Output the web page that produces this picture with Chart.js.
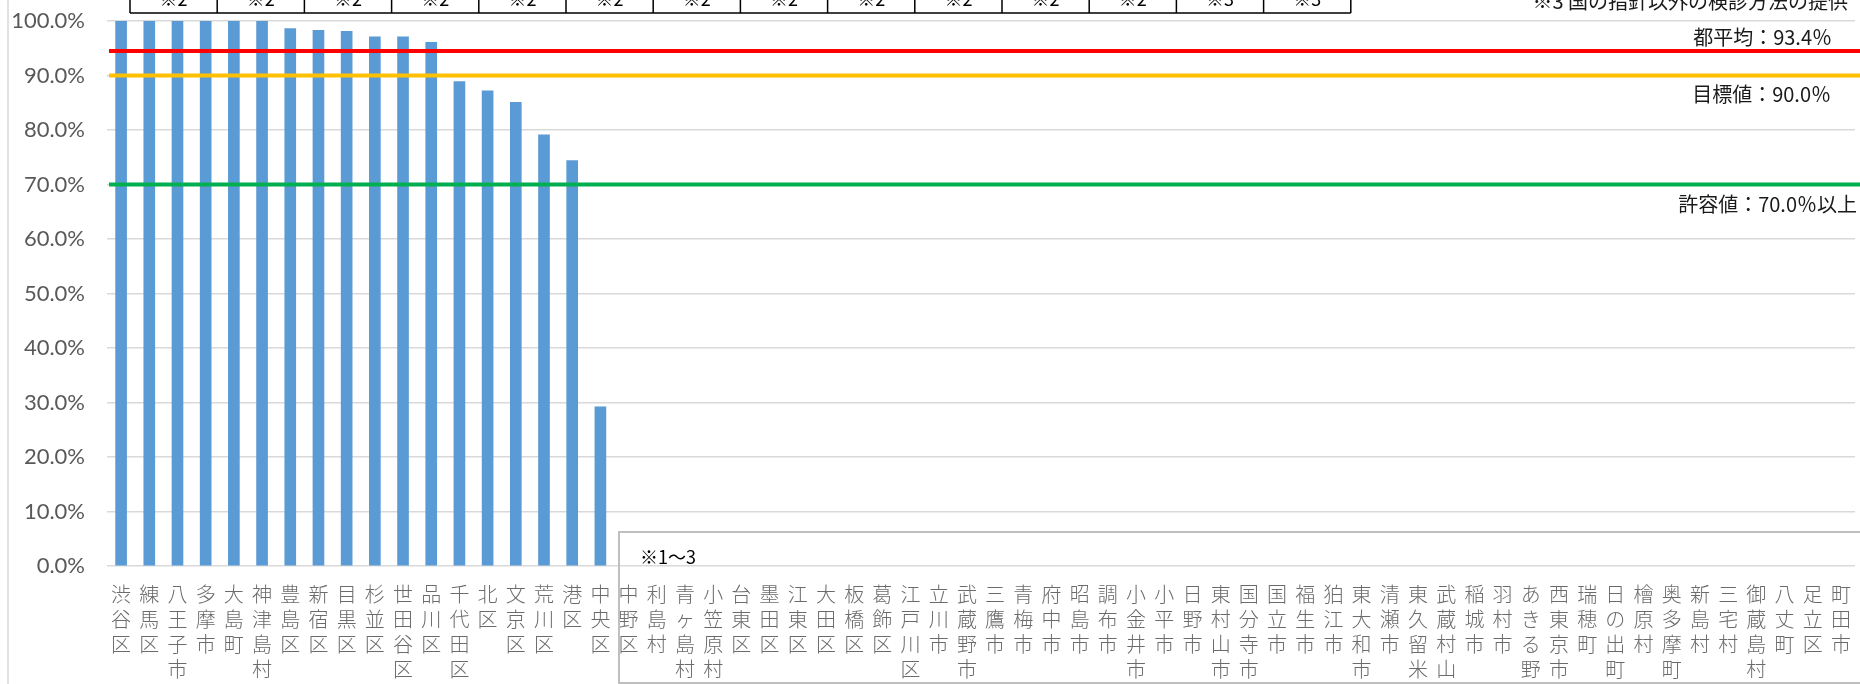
<!DOCTYPE html>
<html>
<head>
<meta charset="utf-8">
<script src="https://cdn.jsdelivr.net/npm/chart.js@4.4.1/dist/chart.umd.min.js"></script>
<style>
  html, body { margin: 0; padding: 0; background: #fff; }
</style>
</head>
<body>
<canvas id="rateChart" width="1860" height="684"></canvas>
<script>
const municipalities = [
  "渋谷区", "練馬区", "八王子市", "多摩市", "大島町", "神津島村", "豊島区", "新宿区", "目黒区", "杉並区",
  "世田谷区", "品川区", "千代田区", "北区", "文京区", "荒川区", "港区", "中央区", "中野区", "利島村",
  "青ヶ島村", "小笠原村", "台東区", "墨田区", "江東区", "大田区", "板橋区", "葛飾区", "江戸川区", "立川市",
  "武蔵野市", "三鷹市", "青梅市", "府中市", "昭島市", "調布市", "小金井市", "小平市", "日野市", "東村山市",
  "国分寺市", "国立市", "福生市", "狛江市", "東大和市", "清瀬市", "東久留米市", "武蔵村山市", "稲城市", "羽村市",
  "あきる野市", "西東京市", "瑞穂町", "日の出町", "檜原村", "奥多摩町", "新島村", "三宅村", "御蔵島村", "八丈町",
  "足立区", "町田市"
];
const rates = [
  100, 100, 100, 100, 100, 100, 98.6, 98.3, 98.1, 97.1,
  97.1, 96.1, 88.9, 87.2, 85.1, 79.1, 74.4, 29.2, null, null,
  null, null, null, null, null, null, null, null, null, null,
  null, null, null, null, null, null, null, null, null, null,
  null, null, null, null, null, null, null, null, null, null,
  null, null, null, null, null, null, null, null, null, null,
  null, null
];
const yTicks = [0, 10, 20, 30, 40, 50, 60, 70, 80, 90, 100];

// reference lines (drawn where the picture shows them) and their captions
const refValues = [94.5, 90.0, 70.0];
const refLabels = ["都平均：93.4％", "目標値：90.0％", "許容値：70.0％以上"];
const topNotes = ["※2", "※2", "※2", "※2", "※2", "※2", "※2", "※2", "※2", "※2", "※2", "※2", "※3", "※3"];
const topRightNote = "※3 国の指針以外の検診方法の提供";
const bottomNote = "※1～3";

const jpFont = "'Noto Sans CJK JP', 'Noto Sans', sans-serif";

const overlay = {
  id: 'overlay',
  beforeDraw(chart) {
    const ctx = chart.ctx;
    ctx.save();
    ctx.strokeStyle = '#D9D9D9';
    ctx.lineWidth = 1.5;
    ctx.beginPath();
    ctx.moveTo(8, 0);
    ctx.lineTo(8, 684);
    ctx.stroke();
    ctx.restore();
  },
  afterDatasetsDraw(chart) {
    const ctx = chart.ctx;
    const area = chart.chartArea;
    const y = chart.scales.y;
    const colors = ['#FF0000', '#FFC000', '#00B050'];
    const offsets = [-14, 19, 20];
    const rightEdge = [1832, 1831, 1857];
    ctx.save();
    refValues.forEach((v, i) => {
      const py = y.getPixelForValue(v);
      ctx.strokeStyle = colors[i];
      ctx.lineWidth = 4;
      ctx.beginPath();
      ctx.moveTo(area.left + 2, py);
      ctx.lineTo(area.right + 5, py);
      ctx.stroke();
      ctx.fillStyle = '#1a1a1a';
      ctx.font = '20px ' + jpFont;
      ctx.textAlign = 'right';
      ctx.textBaseline = 'middle';
      ctx.fillText(refLabels[i], rightEdge[i], py + offsets[i]);
    });

    // boxes along the top edge
    ctx.strokeStyle = '#000';
    ctx.lineWidth = 1.5;
    ctx.fillStyle = '#000';
    ctx.font = '18px ' + jpFont;
    ctx.textAlign = 'center';
    ctx.textBaseline = 'alphabetic';
    const bx = 130, bw = 87.2;
    ctx.beginPath();
    ctx.moveTo(bx, 13);
    ctx.lineTo(bx + bw * topNotes.length, 13);
    for (let i = 0; i <= topNotes.length; i++) {
      ctx.moveTo(bx + bw * i, 0);
      ctx.lineTo(bx + bw * i, 13);
    }
    ctx.stroke();
    topNotes.forEach((t, i) => ctx.fillText(t, bx + bw * (i + 0.5), 6));

    ctx.font = '20px ' + jpFont;
    ctx.textAlign = 'right';
    ctx.fillStyle = '#1a1a1a';
    ctx.fillText(topRightNote, 1848, 9);

    // box at the bottom
    ctx.strokeStyle = '#BFBFBF';
    ctx.lineWidth = 2;
    ctx.strokeRect(619, 532, 1260, 151);
    ctx.fillStyle = '#000';
    ctx.font = '18px ' + jpFont;
    ctx.textAlign = 'left';
    ctx.textBaseline = 'middle';
    ctx.fillText(bottomNote, 640, 557);
    ctx.restore();
  }
};

new Chart(document.getElementById('rateChart').getContext('2d'), {
  type: 'bar',
  data: {
    labels: municipalities,
    datasets: [{
      data: rates,
      backgroundColor: '#5B9BD5',
      barThickness: 11,
      borderWidth: 0
    }]
  },
  options: {
    responsive: false,
    animation: false,
    layout: { padding: { top: 21, right: 5, left: 0, bottom: 0 } },
    plugins: {
      legend: { display: false },
      tooltip: { enabled: false }
    },
    scales: {
      x: {
        grid: { display: false },
        border: { display: false },
        afterFit(scale) { scale.height = 118; },
        ticks: {
          autoSkip: false,
          maxRotation: 0,
          minRotation: 0,
          padding: 8,
          color: '#6b6b6b',
          font: { family: jpFont, size: 20, weight: 300, lineHeight: 1.25 },
          callback: (v, i) => municipalities[i].split('')
        }
      },
      y: {
        min: 0,
        max: 100,
        afterFit(scale) {
          scale.width = 107;
          scale.paddingTop = 0;
          scale.paddingBottom = 0;
        },
        afterBuildTicks(scale) { scale.ticks = yTicks.map(v => ({ value: v })); },
        grid: { color: '#D9D9D9', lineWidth: 1.5, drawTicks: false },
        border: { display: false },
        ticks: {
          padding: 22,
          color: '#595959',
          font: { family: "Lato, 'Open Sans', sans-serif", size: 22 },
          callback: v => v.toFixed(1) + '%'
        }
      }
    }
  },
  plugins: [overlay]
});
</script>
</body>
</html>
